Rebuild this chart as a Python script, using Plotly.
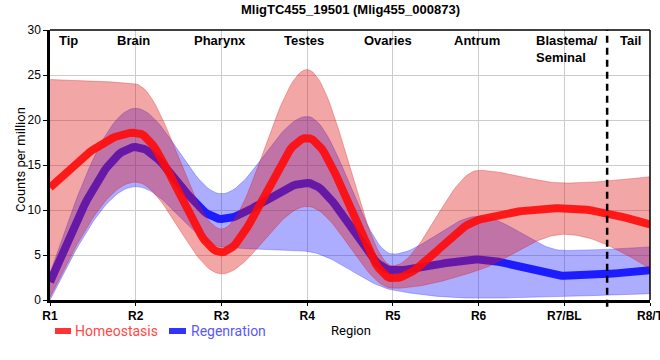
import plotly.graph_objects as go

# ---- data ----
regions = ["R1", "R2", "R3", "R4", "R5", "R6", "R7/BL", "R8/T"]
region_names = ["Tip", "Brain", "Pharynx", "Testes", "Ovaries", "Antrum", "Blastema/<br>Seminal", "Tail"]
region_name_pos = [0.22, 0.97, 1.98, 2.96, 3.94, 4.98, 5.65, 6.77]

homeo_mean = [12.5, 18.6, 5.3, 18.0, 2.4, 8.9, 10.2, 8.4]
homeo_upper = [24.5, 24.0, 7.9, 25.6, 3.8, 14.4, 13.0, 13.7]
homeo_lower = [0.3, 13.1, 2.9, 10.4, 1.3, 3.3, 7.3, 3.5]

regen_mean = [2.0, 17.0, 9.0, 13.0, 3.3, 4.5, 2.7, 3.3]
regen_upper = [3.0, 21.3, 11.8, 20.4, 5.1, 9.3, 5.5, 5.9]
regen_lower = [0.0, 12.6, 5.9, 5.4, 1.1, 0.2, 0.4, 0.7]

title = "MligTC455_19501 (Mlig455_000873)"
x = list(range(len(regions)))


def monotone_curve(xs, ys, steps=30):
    """Render helper: monotone cubic (monotoneX-style) path through the given points."""
    n = len(xs)
    h = [xs[i + 1] - xs[i] for i in range(n - 1)]
    s = [(ys[i + 1] - ys[i]) / h[i] for i in range(n - 1)]
    t = [0.0] * n

    def sign(v):
        return (v > 0) - (v < 0)

    for i in range(1, n - 1):
        p = (s[i - 1] * h[i] + s[i] * h[i - 1]) / (h[i - 1] + h[i])
        t[i] = (sign(s[i - 1]) + sign(s[i])) * min(abs(s[i - 1]), abs(s[i]), 0.5 * abs(p))
    t[0] = (3 * s[0] - t[1]) / 2
    t[-1] = (3 * s[-1] - t[-2]) / 2
    out_x, out_y = [], []
    for i in range(n - 1):
        for k in range(steps):
            u = k / steps
            h00 = 2 * u**3 - 3 * u**2 + 1
            h10 = u**3 - 2 * u**2 + u
            h01 = -2 * u**3 + 3 * u**2
            h11 = u**3 - u**2
            out_x.append(xs[i] + u * h[i])
            out_y.append(h00 * ys[i] + h10 * h[i] * t[i] + h01 * ys[i + 1] + h11 * h[i] * t[i + 1])
    out_x.append(xs[-1])
    out_y.append(ys[-1])
    return out_x, out_y


RED_BAND = "rgba(220,20,20,0.38)"
BLUE_BAND = "rgba(40,40,255,0.38)"
RED_LINE = "rgba(255,10,10,0.9)"
BLUE_LINE = "rgba(20,20,255,0.95)"
FONT = "Liberation Sans, Arial, sans-serif"
LEG_FONT = "Roboto, Liberation Sans, sans-serif"

fig = go.Figure()


def band(upper, lower, color):
    ux, uy = monotone_curve(x, upper)
    lx, ly = monotone_curve(x, lower)
    fig.add_trace(go.Scatter(x=ux, y=uy, mode="lines", line=dict(color=color, width=0.8),
                             showlegend=False, hoverinfo="skip"))
    fig.add_trace(go.Scatter(x=lx, y=ly, mode="lines", line=dict(color=color, width=0.8),
                             fill="tonexty", fillcolor=color, showlegend=False, hoverinfo="skip"))


def mean_line(vals, color, name):
    mx, my = monotone_curve(x, vals)
    fig.add_trace(go.Scatter(x=mx, y=my, mode="lines", line=dict(color=color, width=8),
                             name=name, showlegend=False))


band(regen_upper, regen_lower, BLUE_BAND)
mean_line(regen_mean, BLUE_LINE, "Regenration")
band(homeo_upper, homeo_lower, RED_BAND)
mean_line(homeo_mean, RED_LINE, "Homeostasis")

# region names at the top
for xp, name in zip(region_name_pos, region_names):
    anchor = "left" if "<br>" in name else "center"
    fig.add_annotation(x=xp, y=30, xref="x", yref="y", text="<b>%s</b>" % name, showarrow=False,
                       xanchor=anchor, yanchor="top", yshift=-1, align="left",
                       font=dict(family=FONT, size=13, color="black"))

# dashed separator between R7 and R8
fig.add_shape(type="line", x0=6.5, x1=6.5, xref="x", y0=-0.025, y1=1, yref="paper",
              line=dict(color="black", width=2.5, dash="7px,5px"))

# title and axis titles
fig.add_annotation(x=0.5, y=(300 - 9) / 270, xref="paper", yref="paper", text="<b>%s</b>" % title,
                   showarrow=False, xanchor="center", yanchor="middle",
                   font=dict(family=FONT, size=13, color="black"))
fig.add_annotation(x=(351 - 50) / 600, y=(300 - 331) / 270, xref="paper", yref="paper", text="Region",
                   showarrow=False, xanchor="center", yanchor="middle",
                   font=dict(family=LEG_FONT, size=13, color="black"))
fig.add_annotation(x=(20 - 50) / 600, y=0.5 + 5 / 270, xref="paper", yref="paper", text="Counts per million",
                   showarrow=False, xanchor="center", yanchor="middle", textangle=-90,
                   font=dict(family=LEG_FONT, size=13, color="black"))

# manual legend
ly = (300 - 331) / 270
fig.add_shape(type="rect", xref="paper", yref="paper", x0=5 / 600, x1=21 / 600, y0=ly - 3 / 270, y1=ly + 3 / 270,
              fillcolor="#ff3333", line=dict(width=0))
fig.add_annotation(x=23 / 600, y=ly, xref="paper", yref="paper", text="Homeostasis", showarrow=False,
                   xanchor="left", yanchor="middle", font=dict(family=LEG_FONT, size=14, color="#ff4848"))
fig.add_shape(type="rect", xref="paper", yref="paper", x0=119 / 600, x1=136 / 600, y0=ly - 3 / 270, y1=ly + 3 / 270,
              fillcolor="#3333ff", line=dict(width=0))
fig.add_annotation(x=139 / 600, y=ly, xref="paper", yref="paper", text="Regenration", showarrow=False,
                   xanchor="left", yanchor="middle", font=dict(family=LEG_FONT, size=14, color="#5858ff"))

fig.update_layout(
    width=660, height=360,
    margin=dict(l=50, r=10, t=30, b=60, autoexpand=False),
    paper_bgcolor="white", plot_bgcolor="white",
    font=dict(family=FONT, size=12, color="black"),
    xaxis=dict(range=[0, 7], tickvals=x, ticktext=["<b>%s</b>" % r for r in regions],
               showgrid=True, gridcolor="#cccccc", gridwidth=1,
               showline=True, linecolor="black", linewidth=3,
               ticks="outside", ticklen=3, tickcolor="black", tickwidth=1,
               ticklabeloverflow="allow",
               tickfont=dict(size=12, color="black"), automargin=False, zeroline=False),
    yaxis=dict(range=[0, 30], tickvals=[0, 5, 10, 15, 20, 25, 30],
               showgrid=True, gridcolor="#cccccc", gridwidth=1,
               showline=True, linecolor="black", linewidth=2.5,
               ticks="outside", ticklen=4, tickcolor="black",
               tickfont=dict(size=12, color="black"), automargin=False, zeroline=False),
)
# thin border on top and right
fig.add_shape(type="line", xref="paper", yref="paper", x0=0, x1=1, y0=1, y1=1, line=dict(color="black", width=1.5))
fig.add_shape(type="line", xref="paper", yref="paper", x0=1, x1=1, y0=0, y1=1, line=dict(color="black", width=1.5))

fig.write_html("out.html", config={"displayModeBar": False},
               post_script="document.body.style.margin='0px';")
